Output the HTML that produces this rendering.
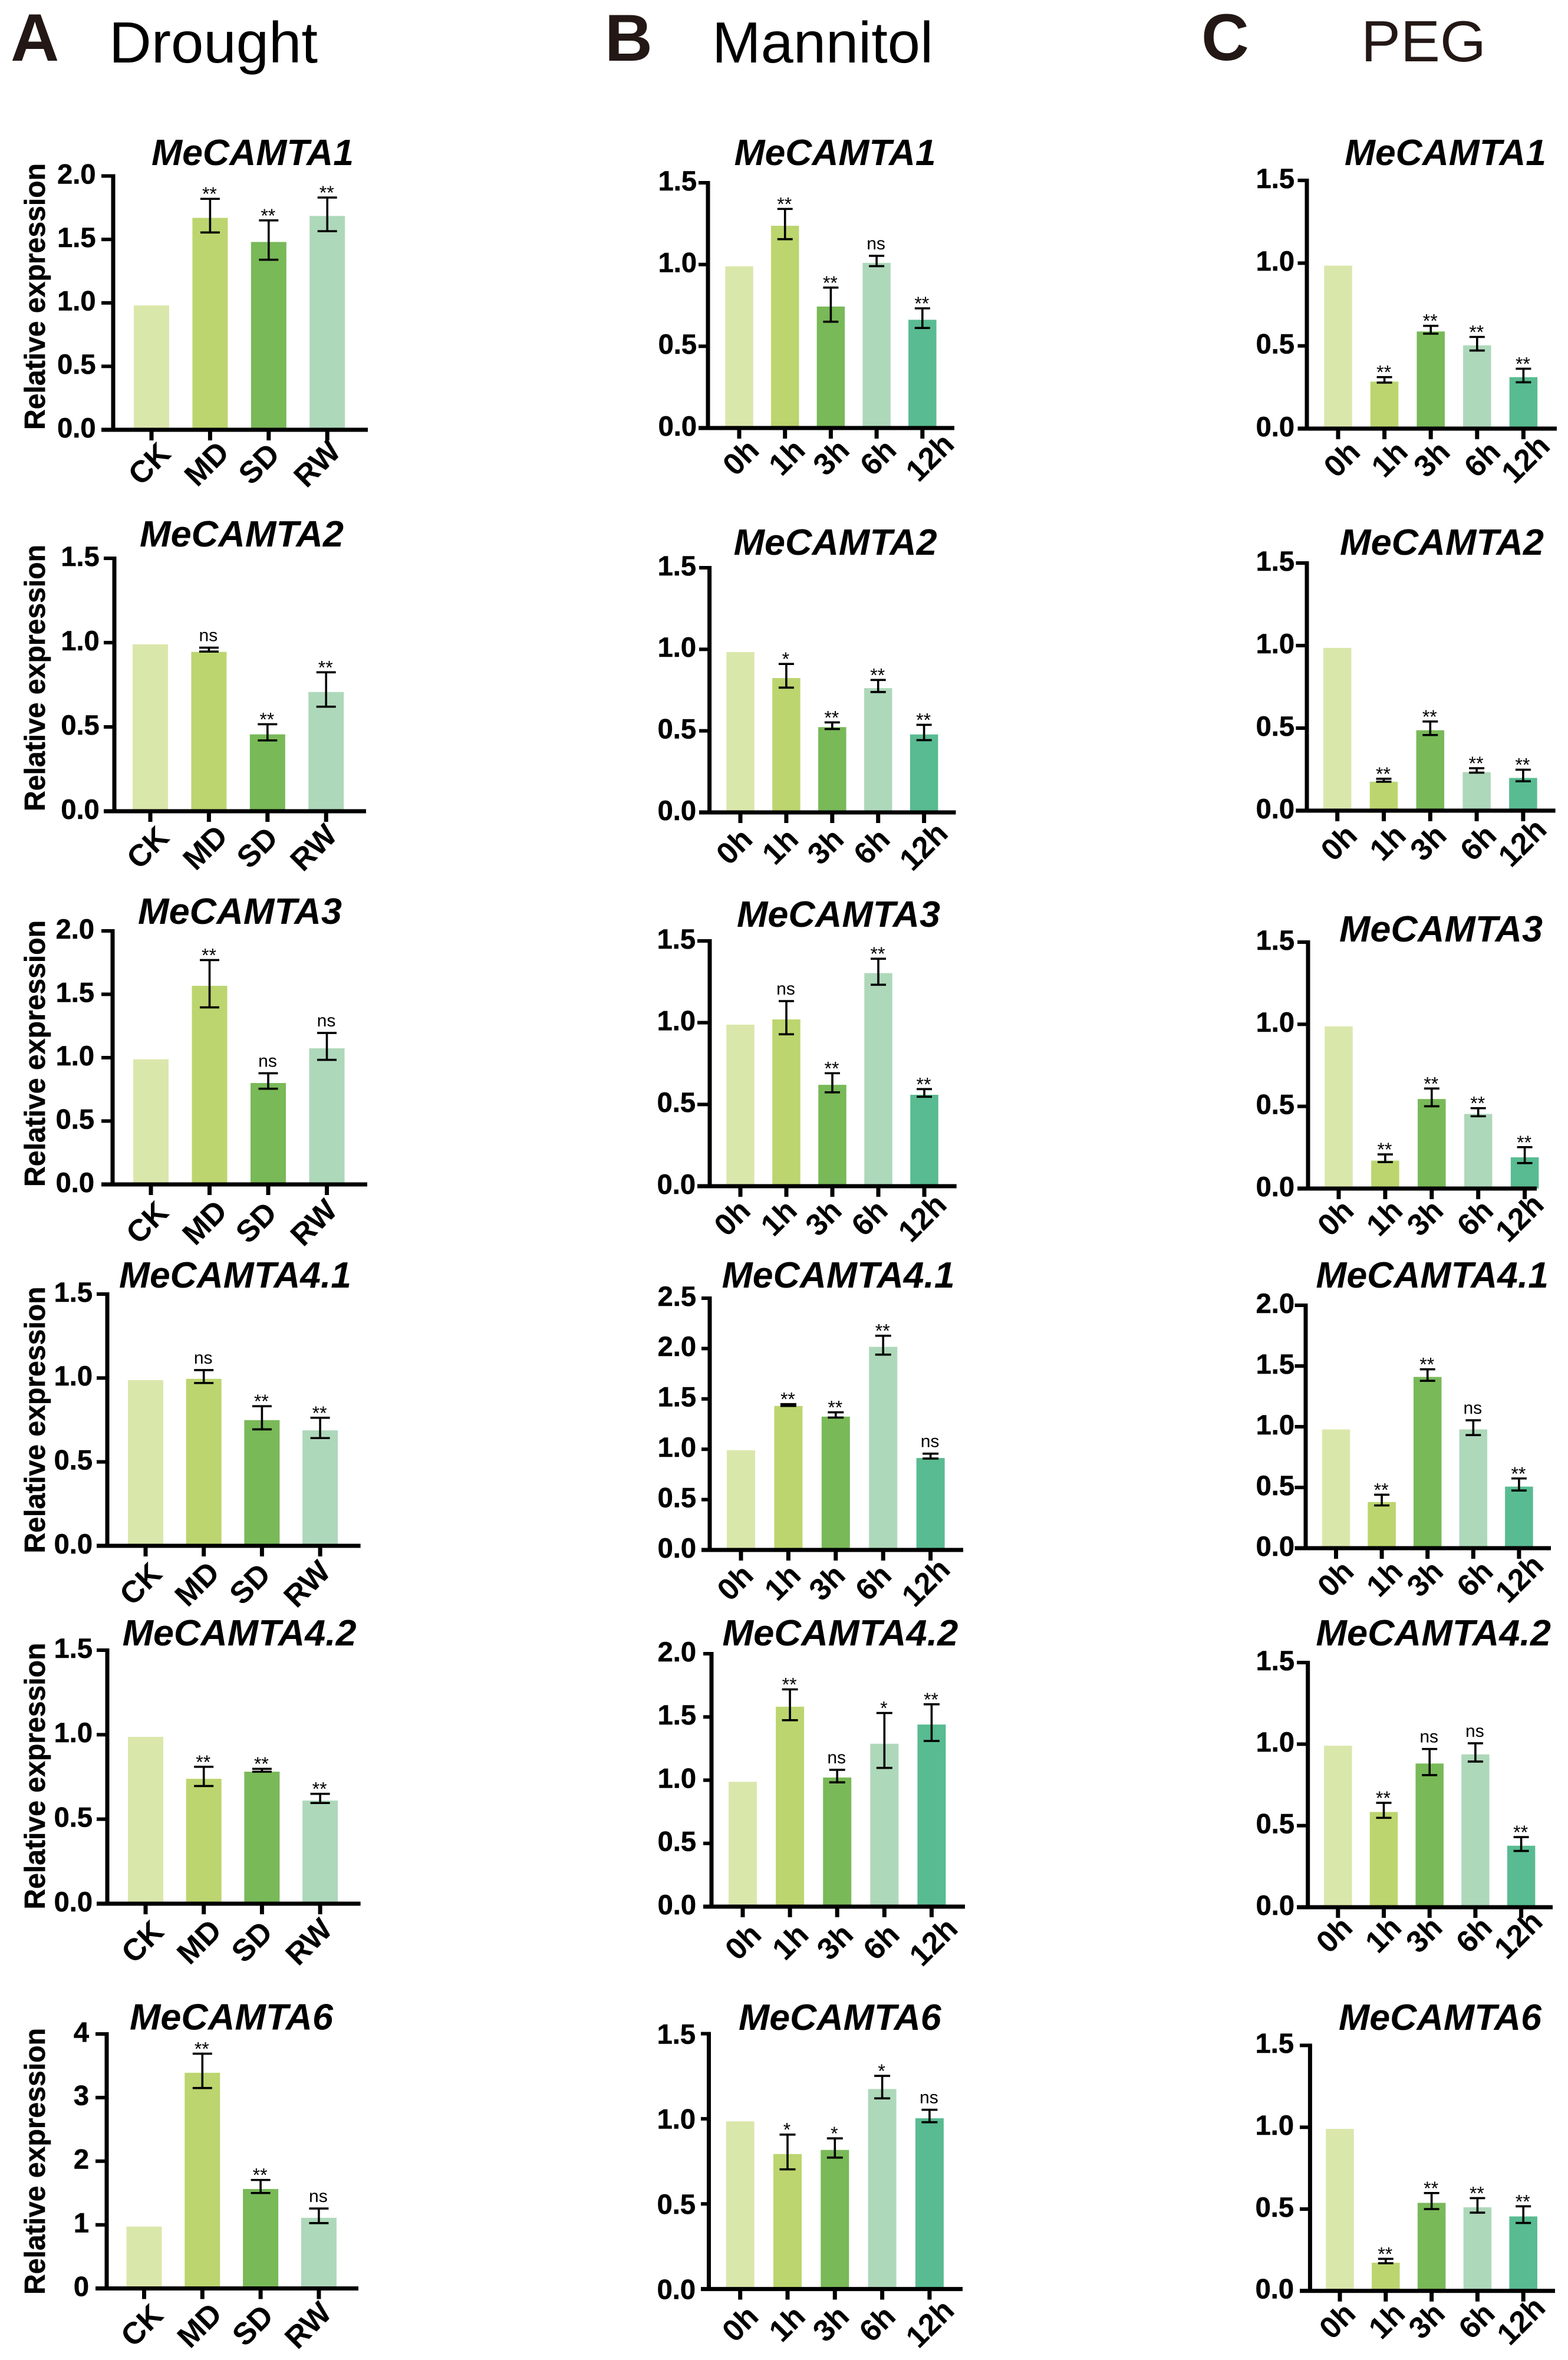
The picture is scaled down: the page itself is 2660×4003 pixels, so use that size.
<!DOCTYPE html>
<html lang="en">
<head>
<meta charset="utf-8">
<title>MeCAMTA relative expression under drought, mannitol and PEG</title>
<style>
html,body{margin:0;padding:0;background:#fff;}
svg{display:block;font-family:"Liberation Sans",Arial,sans-serif;}
</style>
</head>
<body>
<svg id="figure" xmlns="http://www.w3.org/2000/svg" width="2660" height="4003" viewBox="0 0 2660 4003">
  <rect x="0" y="0" width="2660" height="4003" fill="#ffffff"/>
  <text x="18" y="103" font-size="114" font-weight="700" fill="#231815">A</text>
  <text x="1026" y="103" font-size="112" font-weight="700" fill="#231815">B</text>
  <text x="2038" y="102" font-size="112" font-weight="700" fill="#231815">C</text>
  <text x="185" y="106" font-size="98" fill="#000000" textLength="354" lengthAdjust="spacingAndGlyphs">Drought</text>
  <text x="1208" y="106" font-size="98" fill="#000000" textLength="375" lengthAdjust="spacingAndGlyphs">Mannitol</text>
  <text x="2309" y="104" font-size="98" fill="#231815" textLength="212" lengthAdjust="spacingAndGlyphs">PEG</text>
</svg>
<script>
// ---- categories and y tick labels ----
const droughtCategories = ['CK','MD','SD','RW'];
const timeCategories = ['0h','1h','3h','6h','12h'];
const ticks15 = ['0.0','0.5','1.0','1.5'];
const ticks20 = ['0.0','0.5','1.0','1.5','2.0'];
const ticks25 = ['0.0','0.5','1.0','1.5','2.0','2.5'];
const ticks4 = ['0','1','2','3','4'];

// ---- Drought ----
const a1Values = [0.98,1.67,1.48,1.685];
const a1Upper = [null,1.82,1.65,1.83];
const a1Lower = [null,1.555,1.34,1.565];
const a1Sig = ['','**','**','**'];
const a2Values = [0.99,0.945,0.456,0.707];
const a2Upper = [null,0.97,0.516,0.824];
const a2Lower = [null,0.947,0.42,0.62];
const a2Sig = ['','ns','**','**'];
const a3Values = [0.987,1.567,0.80,1.074];
const a3Upper = [null,1.77,0.877,1.195];
const a3Lower = [null,1.397,0.755,0.983];
const a3Sig = ['','**','ns','ns'];
const a41Values = [0.987,0.995,0.749,0.688];
const a41Upper = [null,1.047,0.832,0.763];
const a41Lower = [null,0.97,0.694,0.642];
const a41Sig = ['','ns','**','**'];
const a42Values = [0.987,0.739,0.781,0.61];
const a42Upper = [null,0.81,0.798,0.65];
const a42Lower = [null,0.696,0.781,0.596];
const a42Sig = ['','**','**','**'];
const a6Values = [0.973,3.39,1.563,1.11];
const a6Upper = [null,3.69,1.705,1.256];
const a6Lower = [null,3.15,1.50,1.027];
const a6Sig = ['','**','**','ns'];

// ---- Mannitol ----
const b1Values = [0.989,1.237,0.743,1.01,0.662];
const b1Upper = [null,1.34,0.859,1.053,0.732];
const b1Lower = [null,1.155,0.65,0.99,0.612];
const b1Sig = ['','**','**','ns','**'];
const b2Values = [0.983,0.824,0.523,0.762,0.478];
const b2Upper = [null,0.91,0.552,0.812,0.537];
const b2Lower = [null,0.765,0.511,0.738,0.443];
const b2Sig = ['','*','**','**','**'];
const b3Values = [0.988,1.02,0.62,1.303,0.559];
const b3Upper = [null,1.132,0.691,1.391,0.594];
const b3Lower = [null,0.929,0.574,1.232,0.547];
const b3Sig = ['','ns','**','**','**'];
const b41Values = [0.99,1.43,1.324,2.017,0.913];
const b41Upper = [null,1.448,1.367,2.127,0.956];
const b41Lower = [null,1.43,1.315,1.94,0.908];
const b41Sig = ['','**','**','**','ns'];
const b42Values = [0.987,1.581,1.021,1.288,1.44];
const b42Upper = [null,1.718,1.082,1.531,1.6];
const b42Lower = [null,1.474,0.983,1.097,1.31];
const b42Sig = ['','**','ns','*','**'];
const b6Values = [0.985,0.793,0.817,1.175,1.003];
const b6Upper = [null,0.907,0.885,1.252,1.053];
const b6Lower = [null,0.703,0.772,1.12,0.98];
const b6Sig = ['','*','*','*','ns'];

// ---- PEG ----
const c1Values = [0.985,0.284,0.587,0.503,0.311];
const c1Upper = [null,0.311,0.621,0.554,0.362];
const c1Lower = [null,0.278,0.574,0.472,0.28];
const c1Sig = ['','**','**','**','**'];
const c2Values = [0.986,0.175,0.487,0.233,0.198];
const c2Upper = [null,0.193,0.54,0.257,0.248];
const c2Lower = [null,0.175,0.458,0.23,0.178];
const c2Sig = ['','**','**','**','**'];
const c3Values = [0.987,0.17,0.545,0.454,0.19];
const c3Upper = [null,0.208,0.609,0.489,0.252];
const c3Lower = [null,0.161,0.501,0.44,0.155];
const c3Sig = ['','**','**','**','**'];
const c41Values = [0.978,0.38,1.41,0.978,0.507];
const c41Upper = [null,0.44,1.473,1.053,0.574];
const c41Lower = [null,0.352,1.378,0.931,0.475];
const c41Sig = ['','**','**','ns','**'];
const c42Values = [0.99,0.584,0.881,0.937,0.377];
const c42Upper = [null,0.64,0.97,1.005,0.43];
const c42Lower = [null,0.548,0.81,0.893,0.345];
const c42Sig = ['','**','ns','ns','**'];
const c6Values = [0.99,0.172,0.538,0.511,0.455];
const c6Upper = [null,0.196,0.598,0.567,0.517];
const c6Lower = [null,0.169,0.5,0.478,0.415];
const c6Sig = ['','**','**','**','**'];

// ---- bar colours in category order ----
const barFills = ['#dae7ab','#bcd56f','#79b958','#aed8ba','#59bb91'];

// ---- panel layout (geometry only, values come from the arrays above) ----
const panels = [
 {id:'drought-a1',title:'MeCAMTA1',tx:257,tw:343,tb:280,cats:droughtCategories,v:a1Values,u:a1Upper,l:a1Lower,s:a1Sig,ticks:ticks20,ax:192,top:298.5,y0:729,xe:624,tl:172,lr:162.5,x0:257,st:99.4,bw:60,cap:33,ldx:[-4.4,-6.5,-17,-18],ldy:57,yt:729},
 {id:'drought-a2',title:'MeCAMTA2',tx:237,tw:346,tb:927,cats:droughtCategories,v:a2Values,u:a2Upper,l:a2Lower,s:a2Sig,ticks:ticks15,ax:194,top:947,y0:1376,xe:621,tl:176,lr:168.7,x0:255,st:99.4,bw:60,cap:33,ldx:[-5,-7,-18,-22],ldy:61,yt:1376},
 {id:'drought-a3',title:'MeCAMTA3',tx:234,tw:346,tb:1567,cats:droughtCategories,v:a3Values,u:a3Upper,l:a3Lower,s:a3Sig,ticks:ticks20,ax:191,top:1579,y0:2009,xe:623,tl:172,lr:160,x0:256,st:99.5,bw:60,cap:33,ldx:[-7,-9,-21,-23],ldy:64,yt:2013},
 {id:'drought-a41',title:'MeCAMTA4.1',tx:202,tw:394,tb:2184,cats:droughtCategories,v:a41Values,u:a41Upper,l:a41Lower,s:a41Sig,ticks:ticks15,ax:182,top:2195,y0:2622,xe:611.6,tl:164,lr:157,x0:247,st:98.7,bw:60,cap:33,ldx:[-9,-12,-21,-23],ldy:64,yt:2634.5},
 {id:'drought-a42',title:'MeCAMTA4.2',tx:207.6,tw:397,tb:2791,cats:droughtCategories,v:a42Values,u:a42Upper,l:a42Lower,s:a42Sig,ticks:ticks15,ax:182,top:2799,y0:3229,xe:611.6,tl:164,lr:157,x0:247,st:98.7,bw:60,cap:33,ldx:[-6,-8.5,-17.6,-20],ldy:64,yt:3238.6},
 {id:'drought-a6',title:'MeCAMTA6',tx:220,tw:345,tb:3442.6,cats:droughtCategories,v:a6Values,u:a6Upper,l:a6Lower,s:a6Sig,ticks:ticks4,ax:181,top:3450,y0:3881.6,xe:608,tl:162,lr:151,x0:244.5,st:98.8,bw:60,cap:33,ldx:[-4.5,-5.5,-14,-19],ldy:62,yt:3892},
 {id:'mannitol-b1',title:'MeCAMTA1',tx:1245.6,tw:342,tb:280,cats:timeCategories,v:b1Values,u:b1Upper,l:b1Lower,s:b1Sig,ticks:ticks15,ax:1201,top:310,y0:726,xe:1619,tl:1185,lr:1182,x0:1254,st:77.7,bw:47.5,cap:26,ldx:[2,2.5,0,2,12],ldy:49},
 {id:'mannitol-b2',title:'MeCAMTA2',tx:1244.6,tw:345,tb:941,cats:timeCategories,v:b2Values,u:b2Upper,l:b2Lower,s:b2Sig,ticks:ticks15,ax:1203.6,top:963,y0:1378,xe:1621.5,tl:1186,lr:1181,x0:1256,st:77.9,bw:47.5,cap:26,ldx:[-11,-11,-12,-11.5,-1.5],ldy:57},
 {id:'mannitol-b3',title:'MeCAMTA3',tx:1250,tw:345,tb:1572,cats:timeCategories,v:b3Values,u:b3Upper,l:b3Lower,s:b3Sig,ticks:ticks15,ax:1204,top:1596,y0:2012,xe:1622.7,tl:1183,lr:1180,x0:1256,st:78,bw:47.5,cap:26,ldx:[-14.5,-13.5,-15.6,-15.6,-4],ldy:53},
 {id:'mannitol-b41',title:'MeCAMTA4.1',tx:1224.7,tw:395,tb:2184,cats:timeCategories,v:b41Values,u:b41Upper,l:b41Lower,s:b41Sig,ticks:ticks25,ax:1204,top:2202,y0:2629,xe:1634,tl:1190,lr:1181,x0:1257,st:80.4,bw:48,cap:27,ldx:[-10.5,-10.6,-15.4,-17.3,-8.6],ldy:54.5},
 {id:'mannitol-b42',title:'MeCAMTA4.2',tx:1225.4,tw:400,tb:2791,cats:timeCategories,v:b42Values,u:b42Upper,l:b42Lower,s:b42Sig,ticks:ticks20,ax:1207,top:2805,y0:3234,xe:1637,tl:1193,lr:1181,x0:1260,st:80.1,bw:48,cap:27,ldx:[0,0,-4.4,-6,2.4],ldy:59},
 {id:'mannitol-b6',title:'MeCAMTA6',tx:1253,tw:343.6,tb:3443,cats:timeCategories,v:b6Values,u:b6Upper,l:b6Lower,s:b6Sig,ticks:ticks15,ax:1202.5,top:3449.5,y0:3882.6,xe:1633,tl:1189,lr:1180,x0:1255.7,st:80.3,bw:48,cap:27,ldx:[-0.7,-1.5,-7.4,-9,0],ldy:58,lift:0},
 {id:'peg-c1',title:'MeCAMTA1',tx:2281,tw:342,tb:280,cats:timeCategories,v:c1Values,u:c1Upper,l:c1Lower,s:c1Sig,ticks:ticks15,ax:2217,top:306,y0:727,xe:2641,tl:2201.5,lr:2196,x0:2270,st:78.6,bw:47.5,cap:26,ldx:[5.7,8,1,8,3],ldy:51},
 {id:'peg-c2',title:'MeCAMTA2',tx:2273,tw:346,tb:941,cats:timeCategories,v:c2Values,u:c2Upper,l:c2Lower,s:c2Sig,ticks:ticks15,ax:2217,top:955,y0:1375,xe:2638.6,tl:2198.4,lr:2196,x0:2268.7,st:78.8,bw:47.5,cap:26,ldx:[2,6,-4,2,-2],ldy:53.6},
 {id:'peg-c3',title:'MeCAMTA3',tx:2272,tw:345,tb:1597,cats:timeCategories,v:c3Values,u:c3Upper,l:c3Lower,s:c3Sig,ticks:ticks15,ax:2219,top:1598,y0:2016,xe:2607,tl:2201,lr:2196,x0:2271,st:78.9,bw:47.5,cap:26,ldx:[-6,-2,-12,-6,-9.5],ldy:49},
 {id:'peg-c41',title:'MeCAMTA4.1',tx:2232.4,tw:394.6,tb:2184,cats:timeCategories,v:c41Values,u:c41Upper,l:c41Lower,s:c41Sig,ticks:ticks20,ax:2215,top:2214,y0:2626,xe:2631,tl:2196.5,lr:2196,x0:2266.5,st:77.6,bw:47.5,cap:26,ldx:[-1.5,4,-5,2,0],ldy:51},
 {id:'peg-c42',title:'MeCAMTA4.2',tx:2232.4,tw:398.6,tb:2791,cats:timeCategories,v:c42Values,u:c42Upper,l:c42Lower,s:c42Sig,ticks:ticks15,ax:2218.7,top:2820,y0:3235,xe:2634,tl:2200,lr:2196,x0:2269.8,st:77.7,bw:47.5,cap:26,ldx:[-7,-1.5,-10,-3,-5.6],ldy:46},
 {id:'peg-c6',title:'MeCAMTA6',tx:2271,tw:344,tb:3443,cats:timeCategories,v:c6Values,u:c6Upper,l:c6Lower,s:c6Sig,ticks:ticks15,ax:2222.4,top:3469.4,y0:3885.8,xe:2638,tl:2205,lr:2195,x0:2273,st:77.8,bw:47.5,cap:26,ldx:[-5,1,-9,-2,-4.6],ldy:50}
];

const NS = 'http://www.w3.org/2000/svg';
const svg = document.getElementById('figure');

function make(tag, parent, attrs, content) {
  const node = document.createElementNS(NS, tag);
  for (const k in attrs) node.setAttribute(k, attrs[k]);
  if (content !== undefined) node.textContent = content;
  parent.appendChild(node);
  return node;
}

function drawPanel(p) {
  const yMax = parseFloat(p.ticks[p.ticks.length - 1]);
  const yScale = function (val) { return p.y0 - (val / yMax) * (p.y0 - p.top); };
  const xScale = function (i) { return p.x0 + i * p.st; };

  const group = make('g', svg, {});
  
  

  const title = make('text', group, {x: p.tx, y: p.tb, 'font-size': 62, 'font-weight': 700, 'font-style': 'italic', fill: '#000', textLength: p.tw, lengthAdjust: 'spacingAndGlyphs'}, p.title);
  
  

  if (p.yt !== undefined) {
    const yTitle = make('text', group, {x: 76, y: p.yt, 'font-size': 49, 'font-weight': 700, fill: '#000', stroke: '#000', 'stroke-width': 0.6, textLength: 452, lengthAdjust: 'spacingAndGlyphs', transform: 'rotate(-90 76 ' + p.yt + ')'}, 'Relative expression');
    
    
  }

  p.v.forEach(function (val, i) {
    const cx = xScale(i);
    const bar = make('rect', group, {x: cx - p.bw / 2, y: yScale(val), width: p.bw, height: p.y0 - yScale(val), fill: barFills[i]});
    
    
  });

  p.v.forEach(function (val, i) {
    if (p.u[i] === null) return;
    const cx = xScale(i);
    const yU = yScale(p.u[i]);
    const yL = yScale(p.l[i]);
    const err = make('path', group, {d: 'M' + (cx - p.cap / 2) + ' ' + yU + 'H' + (cx + p.cap / 2) + 'M' + cx + ' ' + yU + 'V' + yL + 'M' + (cx - p.cap / 2) + ' ' + yL + 'H' + (cx + p.cap / 2), stroke: '#000', 'stroke-width': 3.6, fill: 'none'});
    
    
    const isNs = p.s[i] === 'ns';
    const mark = make('text', group, {x: cx - 1, y: isNs ? yU - 11 : yU + 3, 'font-size': isNs ? 30 : 32, 'text-anchor': 'middle', fill: '#000'}, p.s[i]);
    
    
  });

  const yAxis = make('line', group, {x1: p.ax, x2: p.ax, y1: p.top - 3, y2: p.y0 + 3, stroke: '#000', 'stroke-width': 7});
  
  
  const xAxis = make('line', group, {x1: p.tl, x2: p.xe, y1: p.y0, y2: p.y0, stroke: '#000', 'stroke-width': 7});
  
  

  p.ticks.forEach(function (label) {
    const ty = yScale(parseFloat(label));
    const tick = make('line', group, {x1: p.tl, x2: p.ax, y1: ty, y2: ty, stroke: '#000', 'stroke-width': 6});
    
    
    const fs = 47;
    const lift = p.lift === undefined ? 4 : p.lift;
    const text = make('text', group, {x: p.lr, y: ty - lift + 0.358 * fs, 'font-size': fs, 'font-weight': 700, 'text-anchor': 'end', fill: '#000', stroke: '#000', 'stroke-width': 0.6}, label);
    
    
  });

  p.cats.forEach(function (cat, i) {
    const cx = xScale(i);
    const tick = make('line', group, {x1: cx, x2: cx, y1: p.y0, y2: p.y0 + 18, stroke: '#000', 'stroke-width': 7});
    
    
    const fs = 52;
    const lx = cx + p.ldx[i];
    const ly = p.y0 + p.ldy;
    const text = make('text', group, {x: lx, y: ly + 0.358 * fs, 'font-size': fs, 'font-weight': 700, 'text-anchor': 'middle', fill: '#000', transform: 'rotate(-45 ' + lx + ' ' + ly + ')'}, cat);
    
    
  });
}

panels.forEach(drawPanel);
</script>
</body>
</html>
